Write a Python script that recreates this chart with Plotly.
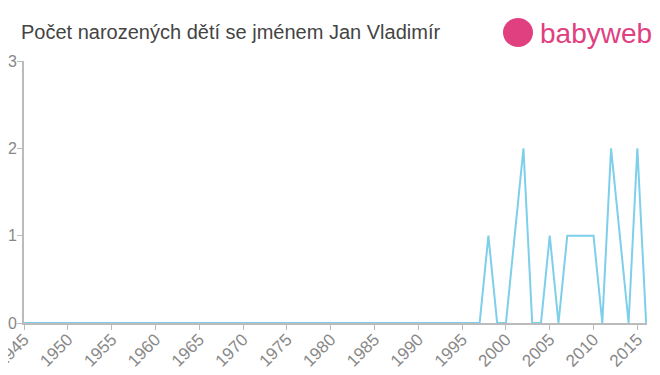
import plotly.graph_objects as go

years = list(range(1945, 2017))
counts = [0] * len(years)
nonzero = {1998: 1, 2001: 1, 2002: 2, 2005: 1, 2007: 1, 2008: 1, 2009: 1, 2010: 1, 2012: 2, 2013: 1, 2015: 2}
for y, v in nonzero.items():
    counts[years.index(y)] = v

tick_years = list(range(1945, 2020, 5))
tick_labels = [str(t) for t in tick_years]

title = "Počet narozených dětí se jménem Jan Vladimír"

# page body has an 8px margin; positions below are in window pixels
OFF = 8
W, H = 660, 375
plot_left, plot_right, plot_top, plot_bottom = 24, 647, 61, 323
l = plot_left - OFF
t = plot_top - OFF
r = W - (plot_right - OFF)
b = H - (plot_bottom - OFF)
pw, ph = W - l - r, H - t - b
def px(x):
    return (x - OFF - l) / pw
def py(y):
    return (H - b - (y - OFF)) / ph

FONT = "Liberation Sans, Arial, sans-serif"

fig = go.Figure()
fig.add_trace(go.Scatter(x=years, y=counts, mode="lines",
                         line=dict(color="#7dcfea", width=2), hoverinfo="x+y"))

fig.update_layout(
    width=W, height=H,
    margin=dict(l=l, r=r, t=t, b=b, autoexpand=False),
    paper_bgcolor="white", plot_bgcolor="white",
    showlegend=False,
    font=dict(family=FONT, color="#888888"),
    xaxis=dict(range=[1945, 2016.1], tickmode="array", tickvals=tick_years, ticktext=tick_labels,
               tickangle=-45, tickfont=dict(size=17, color="#888888", family=FONT), showgrid=False,
               showline=True, linecolor="#bbbbbb", linewidth=2, ticks="outside", ticklen=5,
               tickcolor="#bbbbbb", zeroline=False, automargin=False,
               ticklabeloverflow="allow", ticklabelstandoff=-7),
    yaxis=dict(range=[0, 3], tickvals=[0, 1, 2, 3], tickfont=dict(size=16, color="#888888", family=FONT),
               showgrid=False, showline=True, linecolor="#bbbbbb", linewidth=2,
               ticks="outside", ticklen=5, tickcolor="#bbbbbb", zeroline=False, automargin=False,
               ticklabeloverflow="allow", ticklabelstandoff=-3),
    annotations=[
        dict(text=title, x=px(19), y=py(32), xref="paper", yref="paper", showarrow=False,
             xanchor="left", yanchor="middle", font=dict(size=20, color="#444444", family=FONT)),
        dict(text="babyweb", x=px(538), y=py(33), xref="paper", yref="paper",
             xanchor="left", yanchor="middle", showarrow=False,
             font=dict(size=28, color="#e0407f", family=FONT)),
    ],
    shapes=[
        dict(type="circle", xref="paper", yref="paper",
             x0=px(503), x1=px(533), y0=py(47), y1=py(18),
             fillcolor="#e0407f", line=dict(width=0)),
    ],
)

fig.write_html("out.html")
